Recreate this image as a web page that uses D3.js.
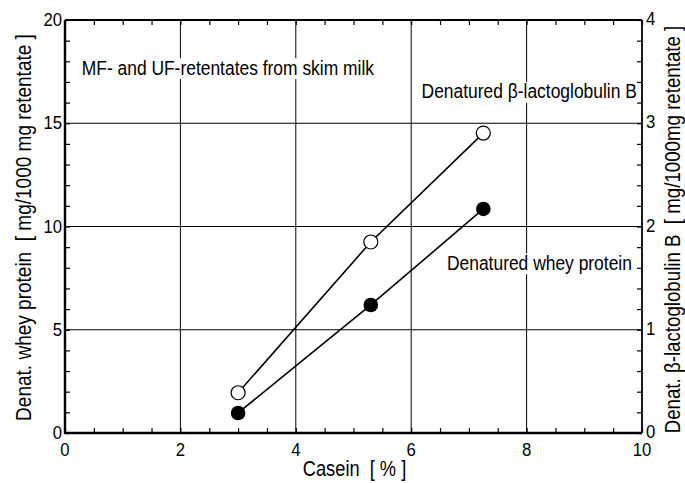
<!DOCTYPE html>
<html><head><meta charset="utf-8">
<script src="https://cdn.jsdelivr.net/npm/d3@7"></script>
<style>body{margin:0;background:#fff}svg{display:block}</style>
</head><body>
<svg id="c" width="685" height="483"></svg>
<script>
// ---- data ----
const casein = [3.0, 5.3, 7.25];
const wheyProtein = [0.97, 6.2, 10.85];      // left axis, mg/1000 mg retentate
const betaLg = [0.39, 1.85, 2.905];          // right axis, mg/1000mg retentate
const xTicks = [0, 2, 4, 6, 8, 10];
const yLeftTicks = [0, 5, 10, 15, 20];
const yRightTicks = [0, 1, 2, 3, 4];
const title = "MF- and UF-retentates from skim milk";
const labelBeta = "Denatured \u03b2-lactoglobulin B";
const labelWhey = "Denatured whey protein";
const xTitle = "Casein\u00a0\u00a0[ % ]";
const yLeftTitle = "Denat. whey protein\u00a0\u00a0[ mg/1000 mg retentate ]";
const yRightTitle = "Denat. \u03b2-lactoglobulin B\u00a0\u00a0[ mg/1000mg retentate ]";

const W = 685, H = 483;
const m = {l: 65, r: 43, t: 20, b: 50};
const svg = d3.select("#c");
const x = d3.scaleLinear().domain([0, 10]).range([m.l, W - m.r]);
const yL = d3.scaleLinear().domain([0, 20]).range([H - m.b, m.t]);
const yR = d3.scaleLinear().domain([0, 4]).range([H - m.b, m.t]);
const FONT = "'Liberation Sans', Arial, Helvetica, sans-serif";
const SX = 0.83;

function txt(g, s, px, py, size, anchor, rot, sx) {
  const t = g.append("text").text(s)
    .attr("font-family", FONT).attr("font-size", size)
    .attr("text-anchor", anchor || "start").attr("fill", "#000")
    .attr("transform", `translate(${px},${py})` + (rot ? ` rotate(${rot})` : "") + ` scale(${sx || SX},1)`);
  return t;
}

// grid
const grid = svg.append("g").attr("stroke", "#000").attr("stroke-width", 1);
[2, 4, 6, 8].forEach(v => grid.append("line").attr("x1", x(v)).attr("x2", x(v)).attr("y1", yL(0)).attr("y2", yL(20)));
[5, 10, 15].forEach(v => grid.append("line").attr("y1", yL(v)).attr("y2", yL(v)).attr("x1", x(0)).attr("x2", x(10)));

// annotations with white backing (they interrupt the grid)
const ann = svg.append("g");
function label(s, px, py) {
  const g = ann.append("g");
  const t = txt(g, s, px, py, 21, "start");
  const bb = t.node().getBBox();
  g.insert("rect", "text")
    .attr("x", px + bb.x * SX - 4).attr("y", py + bb.y + 2)
    .attr("width", bb.width * SX + 8).attr("height", bb.height - 2)
    .attr("fill", "#fff");
}
label(title, x(0.29), yL(17.35));
label(labelBeta, x(6.18), yL(16.2));
label(labelWhey, x(6.62), yL(7.9));

// axes with inward minor ticks
const axB = svg.append("g").attr("transform", `translate(0,${yL(0)})`)
  .call(d3.axisTop(x).ticks(20).tickSize(5).tickFormat(""));
const axT = svg.append("g").attr("transform", `translate(0,${yL(20)})`)
  .call(d3.axisBottom(x).ticks(20).tickSize(5).tickFormat(""));
const axL = svg.append("g").attr("transform", `translate(${x(0)},0)`)
  .call(d3.axisRight(yL).ticks(20).tickSize(5).tickFormat(""));
const axR = svg.append("g").attr("transform", `translate(${x(10)},0)`)
  .call(d3.axisLeft(yR).ticks(20).tickSize(5).tickFormat(""));
[axB, axT, axL, axR].forEach(a => { a.selectAll("line").attr("stroke", "#000").attr("stroke-width", 1.2); a.select(".domain").remove(); });

// frame
const fr = svg.append("g").attr("stroke", "#000").attr("fill", "none");
fr.append("line").attr("x1", x(0)).attr("x2", x(0)).attr("y1", yL(0) + 1).attr("y2", yL(20)).attr("stroke-width", 2.4);
fr.append("line").attr("x1", x(0)).attr("x2", x(10)).attr("y1", yL(0)).attr("y2", yL(0)).attr("stroke-width", 2.4);
fr.append("line").attr("x1", x(0)).attr("x2", x(10)).attr("y1", yL(20)).attr("y2", yL(20)).attr("stroke-width", 1.8);
fr.append("line").attr("x1", x(10)).attr("x2", x(10)).attr("y1", yL(0)).attr("y2", yL(20)).attr("stroke-width", 1.8);

// tick labels
const tl = svg.append("g");
xTicks.forEach(v => txt(tl, String(v), x(v), yL(0) + 23, 19, "middle", 0, 0.88));
yLeftTicks.forEach(v => txt(tl, String(v), x(0) - 3, yL(v) + 6, 19, "end", 0, 0.88));
yRightTicks.forEach(v => txt(tl, String(v), x(10) + 4, yR(v) + 5, 19, "start", 0, 0.88));

// axis titles
txt(svg, xTitle, (x(0) + x(10)) / 2 + 1, H - 7, 22, "middle");
txt(svg, yLeftTitle, 31, (yL(0) + yL(20)) / 2 + 1, 22, "middle", -90, 0.865);
txt(svg, yRightTitle, 680, (yR(0) + yR(4)) / 2 + 3, 22, "middle", -90, 0.85);

// series
const line = d3.line();
const ptsW = casein.map((c, i) => [x(c), yL(wheyProtein[i])]);
const ptsB = casein.map((c, i) => [x(c), yR(betaLg[i])]);
svg.append("path").attr("d", line(ptsB)).attr("fill", "none").attr("stroke", "#000").attr("stroke-width", 1.6);
svg.append("path").attr("d", line(ptsW)).attr("fill", "none").attr("stroke", "#000").attr("stroke-width", 1.6);
svg.append("g").selectAll("circle").data(ptsB).join("circle")
  .attr("cx", d => d[0]).attr("cy", d => d[1]).attr("r", 7)
  .attr("fill", "#fff").attr("stroke", "#000").attr("stroke-width", 1.2);
svg.append("g").selectAll("circle").data(ptsW).join("circle")
  .attr("cx", d => d[0]).attr("cy", d => d[1]).attr("r", 7.3)
  .attr("fill", "#000");
</script>
</body></html>
